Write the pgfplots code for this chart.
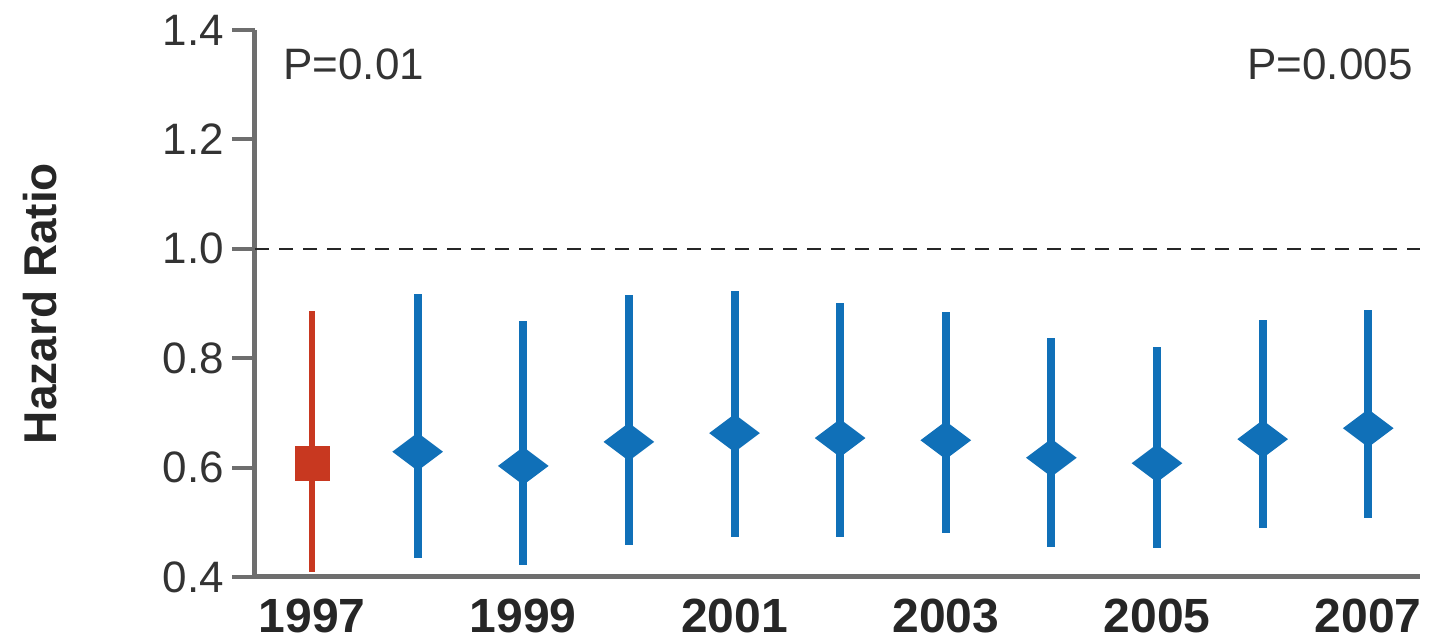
\documentclass[border=0pt]{standalone}
\usepackage{fontspec}
\setmainfont{Liberation Sans}
\usepackage{pgfplots}
\usepackage{pgfplotstable}
\pgfplotsset{compat=1.18}
\definecolor{hrblue}{RGB}{16,112,184}
\definecolor{hrred}{RGB}{200,56,32}
\definecolor{axgray}{RGB}{110,110,110}

\pgfplotstableread{
year hr lo hi
1998 0.629 0.435 0.917
1999 0.603 0.422 0.868
2000 0.647 0.459 0.916
2001 0.663 0.473 0.923
2002 0.654 0.473 0.901
2003 0.650 0.480 0.884
2004 0.618 0.455 0.837
2005 0.608 0.453 0.820
2006 0.652 0.490 0.870
2007 0.672 0.508 0.888
}\bluedata
\pgfplotstableread{
year hr lo hi
1997 0.608 0.409 0.886
}\reddata

\begin{document}
\begin{tikzpicture}
\begin{axis}[
 at={(0,0)}, anchor=south west,
 scale only axis, width=582.5pt, height=273.5pt,
 xmin=1996.46, xmax=2007.49, ymin=0.4, ymax=1.4,
 axis x line*=bottom, axis y line*=left,
 axis line style={-, axgray, line width=2.5pt},
 xtick={1997,1999,2001,2003,2005,2007},
 xticklabels={1997,1999,2001,2003,2005,2007},
 ytick={0.4,0.6,0.8,1.0,1.2,1.4},
 yticklabels={0.4,0.6,0.8,1.0,1.2,1.4},
 tick align=outside,
 major tick length=11.5pt,
 ytick style={axgray, line width=2pt},
 xtick style={draw=none},
 xticklabel style={font=\fontsize{24}{28}\selectfont\bfseries, anchor=base, yshift=-16.5pt, text=black!85},
 yticklabel style={font=\fontsize{22}{26}\selectfont, anchor=east, xshift=-0.5pt, text=black!80},
 clip=false,
]
\addplot[black!85, line width=1.2pt, dash pattern=on 7pt off 5pt, forget plot] coordinates {(1996.46,1) (2007.49,1)};
\addplot[only marks, hrblue, mark=diamond*, mark size=12pt,
  mark options={rotate=90, fill=hrblue, draw=hrblue, line width=0.8pt},
  error bars/.cd, y dir=both, y explicit,
  error bar style={line width=4pt, hrblue}, error mark=none]
  table[x=year, y=hr, y error plus expr=\thisrow{hi}-\thisrow{hr}, y error minus expr=\thisrow{hr}-\thisrow{lo}] {\bluedata};
\addplot[only marks, hrred, mark=square*, mark size=8.5pt,
  mark options={fill=hrred, draw=hrred, line width=0.5pt},
  error bars/.cd, y dir=both, y explicit,
  error bar style={line width=3pt, hrred}, error mark=none]
  table[x=year, y=hr, y error plus expr=\thisrow{hi}-\thisrow{hr}, y error minus expr=\thisrow{hr}-\thisrow{lo}] {\reddata};
\end{axis}
\node[anchor=base west, font=\fontsize{22}{26}\selectfont, text=black!80, inner sep=0] at (14pt,248.5pt) {P=0.01};
\node[anchor=base east, font=\fontsize{22}{26}\selectfont, text=black!80, inner sep=0] at (579pt,248.5pt) {P=0.005};
\node[rotate=90, anchor=base, font=\fontsize{23}{27}\selectfont\bfseries, text=black!85, inner sep=0] at (-99pt,136.75pt) {Hazard Ratio};
\pgfresetboundingbox
\path[use as bounding box] (-127.5pt,-31.5pt) rectangle (589pt,288.5pt);
\end{tikzpicture}
\end{document}
